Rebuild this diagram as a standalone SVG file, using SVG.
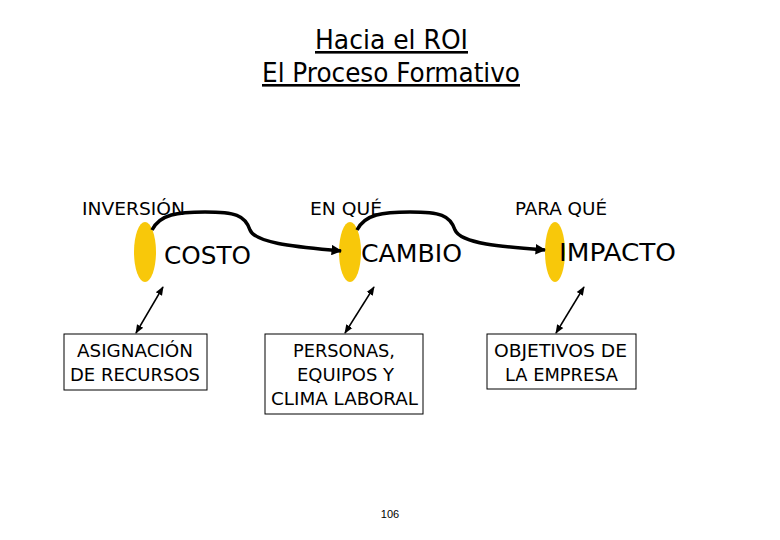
<svg xmlns="http://www.w3.org/2000/svg" width="780" height="540" viewBox="0 0 780 540">
<style>
text{font-family:"DejaVu Sans Condensed","DejaVu Sans","Liberation Sans",sans-serif;fill:#000}
.t{font-size:26px;text-decoration:underline}
.h{font-size:17px}
.b{font-size:24px}
.bx{font-size:18px}
.box{fill:#fff;stroke:#000;stroke-width:1}
.ell{fill:#F8C80A}
.c{fill:none;stroke:#000;stroke-width:3.5}
.d{fill:none;stroke:#000;stroke-width:1.5}
</style>
<defs>
<marker id="ah" viewBox="0 0 10 10" refX="9" refY="5" markerWidth="3" markerHeight="3" orient="auto"><path d="M0,0L10,5L0,10z" fill="#000"/></marker>
<marker id="sa" viewBox="0 0 10 10" refX="9" refY="5" markerWidth="6" markerHeight="6" orient="auto-start-reverse"><path d="M0,1L10,5L0,9z" fill="#000"/></marker>
</defs>
<g id="title">
<text class="t" x="315" y="49" textLength="153" lengthAdjust="spacingAndGlyphs">Hacia el ROI</text>
<text class="t" x="262" y="82" textLength="258" lengthAdjust="spacingAndGlyphs">El Proceso Formativo</text>
</g>
<g id="headers">
<text class="h" x="82" y="215" textLength="103" lengthAdjust="spacingAndGlyphs">INVERSIÓN</text>
<text class="h" x="310" y="215" textLength="72" lengthAdjust="spacingAndGlyphs">EN QUÉ</text>
<text class="h" x="515" y="215" textLength="92" lengthAdjust="spacingAndGlyphs">PARA QUÉ</text>
</g>
<g id="costo">
<ellipse class="ell" cx="145" cy="252" rx="11" ry="30"/>
<text class="b" x="164" y="264" textLength="87" lengthAdjust="spacingAndGlyphs">COSTO</text>
</g>
<g id="cambio">
<ellipse class="ell" cx="350" cy="252" rx="11" ry="30"/>
<text class="b" x="361" y="262" textLength="101" lengthAdjust="spacingAndGlyphs">CAMBIO</text>
</g>
<g id="impacto">
<ellipse class="ell" cx="555" cy="252" rx="10" ry="30"/>
<text class="b" x="559" y="261" textLength="117" lengthAdjust="spacingAndGlyphs">IMPACTO</text>
</g>
<g id="asignacion">
<rect class="box" x="64" y="334" width="143" height="56"/>
<text class="bx" x="77" y="357" textLength="116" lengthAdjust="spacingAndGlyphs">ASIGNACIÓN</text>
<text class="bx" x="70" y="381" textLength="130" lengthAdjust="spacingAndGlyphs">DE RECURSOS</text>
</g>
<g id="personas">
<rect class="box" x="265" y="334" width="158" height="80"/>
<text class="bx" x="293" y="357" textLength="102" lengthAdjust="spacingAndGlyphs">PERSONAS,</text>
<text class="bx" x="297" y="381" textLength="97" lengthAdjust="spacingAndGlyphs">EQUIPOS Y</text>
<text class="bx" x="271" y="405" textLength="147" lengthAdjust="spacingAndGlyphs">CLIMA LABORAL</text>
</g>
<g id="objetivos">
<rect class="box" x="487" y="334" width="149" height="55"/>
<text class="bx" x="494" y="357" textLength="133" lengthAdjust="spacingAndGlyphs">OBJETIVOS DE</text>
<text class="bx" x="505" y="381" textLength="113" lengthAdjust="spacingAndGlyphs">LA EMPRESA</text>
</g>
<g id="connectors">
<path class="c" marker-end="url(#ah)" d="M152,230 C160,214 178,212 205,212 C235,212 245,215 250,230 C256,244 300,247 341,251"/>
<path class="c" marker-end="url(#ah)" d="M357,230 C365,214 383,212 410,212 C440,212 450,215 455,230 C461,244 505,247 545,250"/>
<line class="d" marker-start="url(#sa)" marker-end="url(#sa)" x1="136" y1="333" x2="163" y2="287"/>
<line class="d" marker-start="url(#sa)" marker-end="url(#sa)" x1="345" y1="333" x2="374" y2="287"/>
<line class="d" marker-start="url(#sa)" marker-end="url(#sa)" x1="556" y1="333" x2="584" y2="287"/>
</g>
<text x="390" y="518" style="font-size:11px;text-anchor:middle;font-family:'Liberation Sans',sans-serif">106</text>
</svg>
